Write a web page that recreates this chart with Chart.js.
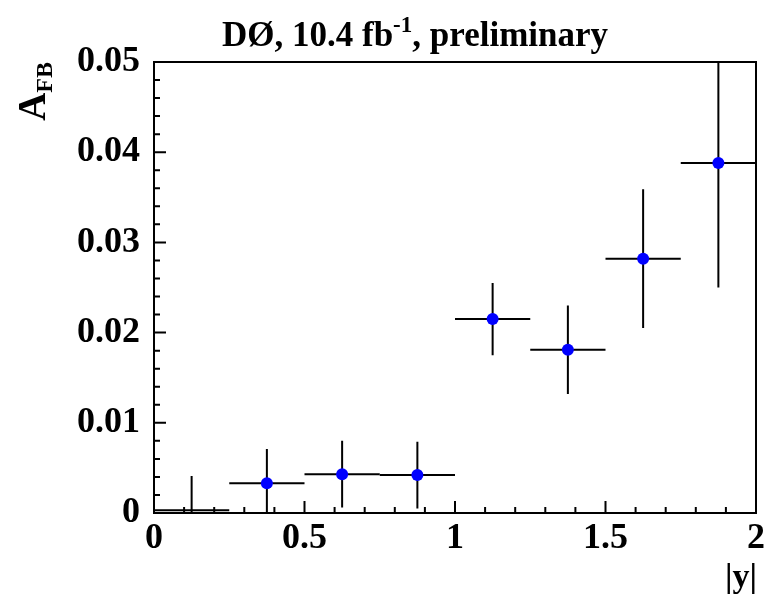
<!DOCTYPE html>
<html>
<head>
<meta charset="utf-8">
<script src="https://cdn.jsdelivr.net/npm/chart.js@4.4.0/dist/chart.umd.min.js"></script>
<style>
  html, body { margin: 0; padding: 0; background: #fff; }
</style>
</head>
<body>
<canvas id="afbChart" width="769" height="594"></canvas>
<script>
// |y| bins (centres) and forward-backward asymmetry
const binCenters = [0.125, 0.375, 0.625, 0.875, 1.125, 1.375, 1.625, 1.875];
const binHalfWidth = 0.125;
const afb    = [0.0003, 0.0033, 0.0043, 0.0042, 0.0215, 0.0181, 0.0282, 0.0388];
const afbErr = [0.0038, 0.0038, 0.0037, 0.0037, 0.0040, 0.0049, 0.0077, 0.0138];
const xTickLabels = ["0", "0.5", "1", "1.5", "2"];
const yTickLabels = ["0", "0.01", "0.02", "0.03", "0.04", "0.05"];

const SERIF = '"Liberation Serif", "Times New Roman", serif';

// error bars, drawn under the markers
const errorBars = {
  id: "errorBars",
  beforeDatasetsDraw(chart) {
    const { ctx, chartArea: a, scales: { x, y } } = chart;
    ctx.save();
    ctx.beginPath();
    ctx.rect(a.left, a.top, a.right - a.left, a.bottom - a.top);
    ctx.clip();
    ctx.strokeStyle = "#000";
    ctx.lineWidth = 2;
    binCenters.forEach((c, i) => {
      const py = y.getPixelForValue(afb[i]);
      const px = x.getPixelForValue(c);
      ctx.beginPath();
      ctx.moveTo(x.getPixelForValue(c - binHalfWidth), py);
      ctx.lineTo(x.getPixelForValue(c + binHalfWidth), py);
      ctx.moveTo(px, y.getPixelForValue(afb[i] - afbErr[i]));
      ctx.lineTo(px, y.getPixelForValue(afb[i] + afbErr[i]));
      ctx.stroke();
    });
    ctx.restore();
  }
};

// ROOT-like frame, inward ticks, title and axis titles
const frameAndText = {
  id: "frameAndText",
  afterDraw(chart) {
    const { ctx, chartArea: a, scales: { x, y } } = chart;
    ctx.save();
    ctx.strokeStyle = "#000";
    ctx.lineWidth = 2;
    ctx.strokeRect(a.left, a.top, a.right - a.left, a.bottom - a.top);

    ctx.beginPath();
    for (let k = 0; k <= 25; k++) {
      const py = y.getPixelForValue(k * 0.002);
      ctx.moveTo(a.left, py);
      ctx.lineTo(a.left + (k % 5 === 0 ? 12 : 6), py);
    }
    for (let k = 0; k <= 20; k++) {
      const px = x.getPixelForValue(k * 0.1);
      ctx.moveTo(px, a.bottom);
      ctx.lineTo(px, a.bottom - (k % 5 === 0 ? 12 : 6));
    }
    ctx.stroke();

    ctx.fillStyle = "#000";
    ctx.textBaseline = "alphabetic";

    // title with superscript
    const big = "bold 35px " + SERIF, sup = "bold 23px " + SERIF;
    const p1 = "DØ, 10.4 fb", p2 = "-1", p3 = ", preliminary";
    ctx.font = big;
    const w1 = ctx.measureText(p1).width, w3 = ctx.measureText(p3).width;
    ctx.font = sup;
    const w2 = ctx.measureText(p2).width;
    let tx = 415 - (w1 + w2 + w3) / 2;
    const ty = 46;
    ctx.font = big; ctx.fillText(p1, tx, ty); tx += w1;
    ctx.font = sup; ctx.fillText(p2, tx, ty - 14); tx += w2;
    ctx.font = big; ctx.fillText(p3, tx, ty);

    // x title
    ctx.font = "bold 34px " + SERIF;
    ctx.textAlign = "right";
    ctx.fillText("|y|", 757, 587);

    // y title A_FB, rotated
    ctx.translate(45, 62);
    ctx.rotate(-Math.PI / 2);
    ctx.textAlign = "left";
    ctx.font = "bold 24px " + SERIF;
    const wSub = ctx.measureText("FB").width;
    ctx.font = "bold 39px " + SERIF;
    const wA = ctx.measureText("A").width;
    ctx.fillText("A", -(wA + wSub), 0);
    ctx.font = "bold 24px " + SERIF;
    ctx.fillText("FB", -wSub, 7);
    ctx.restore();
  }
};

Chart.defaults.font.family = SERIF;
Chart.defaults.font.weight = "bold";
Chart.defaults.color = "#000";

new Chart(document.getElementById("afbChart"), {
  type: "scatter",
  data: {
    datasets: [{
      data: binCenters.map((c, i) => ({ x: c, y: afb[i] })),
      backgroundColor: "#0000ff",
      borderWidth: 0,
      pointRadius: binCenters.map((c, i) => (i === 0 ? 0 : 6)),
      pointHoverRadius: 6
    }]
  },
  options: {
    responsive: false,
    animation: false,
    layout: { padding: { top: 62, right: 11, bottom: 0, left: 0 } },
    plugins: { legend: { display: false }, tooltip: { enabled: false } },
    scales: {
      x: {
        type: "linear", min: 0, max: 2,
        grid: { display: false, drawTicks: false }, border: { display: false },
        ticks: {
          stepSize: 0.5, autoSkip: false, maxRotation: 0, padding: 4,
          font: { size: 36, weight: "bold" },
          callback: (v, i) => xTickLabels[i]
        },
        afterFit: s => { s.height = 81; }
      },
      y: {
        type: "linear", min: 0, max: 0.05,
        grid: { display: false, drawTicks: false }, border: { display: false },
        ticks: {
          stepSize: 0.01, autoSkip: false, padding: 14,
          font: { size: 36, weight: "bold" },
          callback: (v, i) => yTickLabels[i]
        },
        afterFit: s => { s.width = 154; }
      }
    }
  },
  plugins: [errorBars, frameAndText]
});
</script>
</body>
</html>
